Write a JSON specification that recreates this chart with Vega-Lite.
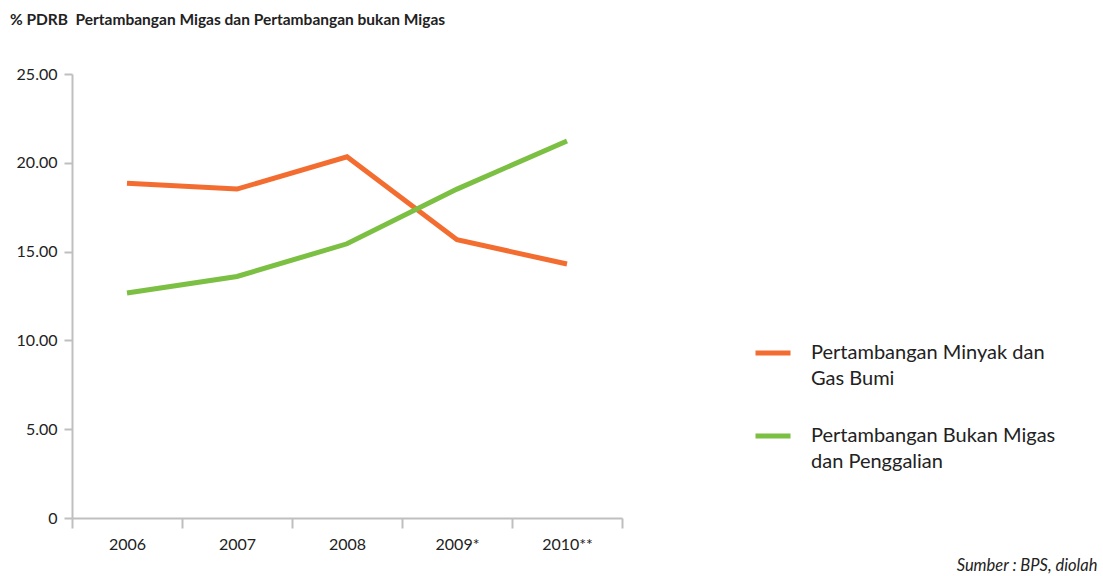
{
  "$schema": "https://vega.github.io/schema/vega-lite/v6.json",
  "width": 550,
  "height": 444,
  "autosize": {"type": "none"},
  "padding": {"left": 72, "top": 74, "right": 481, "bottom": 58},
  "background": "white",
  "title": {
    "text": "% PDRB\u00a0\u00a0Pertambangan Migas dan Pertambangan bukan Migas",
    "anchor": "start",
    "frame": "group",
    "dx": -62,
    "offset": 38,
    "font": "Lato",
    "fontSize": 15.5,
    "fontWeight": "bold",
    "color": "#222222"
  },
  "data": {
    "values": [
      {"year": "2006", "series": "Pertambangan Minyak dan Gas Bumi", "value": 18.85},
      {"year": "2007", "series": "Pertambangan Minyak dan Gas Bumi", "value": 18.52},
      {"year": "2008", "series": "Pertambangan Minyak dan Gas Bumi", "value": 20.34},
      {"year": "2009*", "series": "Pertambangan Minyak dan Gas Bumi", "value": 15.67},
      {"year": "2010**", "series": "Pertambangan Minyak dan Gas Bumi", "value": 14.3},
      {"year": "2006", "series": "Pertambangan Bukan Migas dan Penggalian", "value": 12.67},
      {"year": "2007", "series": "Pertambangan Bukan Migas dan Penggalian", "value": 13.6},
      {"year": "2008", "series": "Pertambangan Bukan Migas dan Penggalian", "value": 15.44},
      {"year": "2009*", "series": "Pertambangan Bukan Migas dan Penggalian", "value": 18.52},
      {"year": "2010**", "series": "Pertambangan Bukan Migas dan Penggalian", "value": 21.23}
    ]
  },
  "mark": {"type": "line", "strokeWidth": 5, "strokeCap": "butt", "strokeJoin": "miter"},
  "encoding": {
    "x": {
      "field": "year",
      "type": "ordinal",
      "sort": null,
      "scale": {"paddingInner": 0, "paddingOuter": 0},
      "axis": {
        "title": "Sumber : BPS, diolah",
        "titleFont": "Lato",
        "titleFontSize": 16.5,
        "titleFontStyle": "italic",
        "titleFontWeight": "normal",
        "titleColor": "#222222",
        "titleAlign": "right",
        "titleAnchor": "end",
        "titleBaseline": "alphabetic",
        "titleX": 1025,
        "titleY": 52,
        "labelAngle": 0,
        "labelFont": "Lato",
        "labelFontSize": 16,
        "labelColor": "#222222",
        "labelPadding": 8,
        "tickBand": "extent",
        "tickSize": 10,
        "tickColor": "#BFBFBF",
        "tickWidth": 2,
        "domainColor": "#BFBFBF",
        "domainWidth": 2,
        "grid": false
      }
    },
    "y": {
      "field": "value",
      "type": "quantitative",
      "scale": {"domain": [0, 25], "nice": false},
      "axis": {
        "title": null,
        "values": [0, 5, 10, 15, 20, 25],
        "labelExpr": "datum.value == 0 ? '0' : format(datum.value, '.2f')",
        "labelFont": "Lato",
        "labelFontSize": 16,
        "labelColor": "#222222",
        "labelPadding": 7,
        "tickSize": 8,
        "tickColor": "#BFBFBF",
        "tickWidth": 2,
        "domainColor": "#BFBFBF",
        "domainWidth": 2,
        "grid": false
      }
    },
    "color": {
      "field": "series",
      "type": "nominal",
      "sort": ["Pertambangan Minyak dan Gas Bumi", "Pertambangan Bukan Migas dan Penggalian"],
      "scale": {
        "domain": ["Pertambangan Minyak dan Gas Bumi", "Pertambangan Bukan Migas dan Penggalian"],
        "range": ["#F36D31", "#7BBF43"]
      },
      "legend": {
        "title": null,
        "orient": "none",
        "legendX": 681,
        "legendY": 259,
        "symbolType": "stroke",
        "symbolStrokeWidth": 5,
        "symbolSize": 1225,
        "labelExpr": "datum.label == 'Pertambangan Minyak dan Gas Bumi' ? ['Pertambangan Minyak dan', 'Gas Bumi'] : ['Pertambangan Bukan Migas', 'dan Penggalian']",
        "labelFont": "Lato",
        "labelFontSize": 20,
        "labelColor": "#222222",
        "labelLimit": 400,
        "labelOffset": 18,
        "rowPadding": 27,
        "encode": {"labels": {"update": {"lineHeight": {"value": 26}}}}
      }
    }
  },
  "config": {
    "view": {"stroke": null}
  }
}
